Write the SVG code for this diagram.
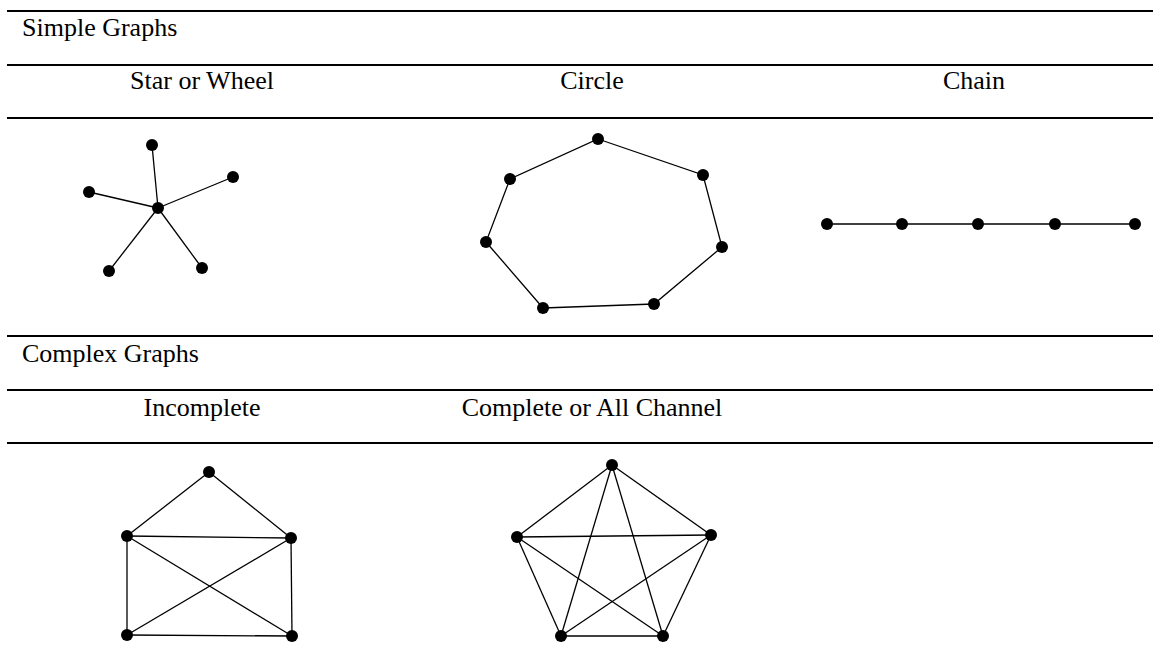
<svg xmlns="http://www.w3.org/2000/svg" width="1153" height="669" viewBox="0 0 1153 669">
<style>
.rule{stroke:#000;stroke-width:2}
.t{font-family:"Liberation Serif","Times New Roman",serif;font-size:26px;fill:#000}
.c{text-anchor:middle}
.e{stroke:#000;stroke-width:1.3;fill:none}
.n{fill:#000}
</style>
<rect width="1153" height="669" fill="#fff"/>
<g id="table">
<line class="rule" x1="7" y1="11" x2="1153" y2="11"/>
<line class="rule" x1="7" y1="65" x2="1153" y2="65"/>
<line class="rule" x1="7" y1="118" x2="1153" y2="118"/>
<line class="rule" x1="7" y1="336" x2="1153" y2="336"/>
<line class="rule" x1="7" y1="390" x2="1153" y2="390"/>
<line class="rule" x1="7" y1="443" x2="1153" y2="443"/>
<text class="t" x="22" y="36">Simple Graphs</text>
<text class="t c" x="202" y="89">Star or Wheel</text>
<text class="t c" x="592" y="89">Circle</text>
<text class="t c" x="974" y="89">Chain</text>
<text class="t" x="22" y="362">Complex Graphs</text>
<text class="t c" x="202" y="416">Incomplete</text>
<text class="t c" x="592" y="416">Complete or All Channel</text>
</g>
<g id="connectors">
<line class="e" x1="158" y1="208" x2="152" y2="145"/>
<line class="e" x1="158" y1="208" x2="233" y2="177"/>
<line class="e" x1="158" y1="208" x2="89" y2="192"/>
<line class="e" x1="158" y1="208" x2="109" y2="271"/>
<line class="e" x1="158" y1="208" x2="202" y2="268"/>
<polygon class="e" points="598,139 703,175 722,247 654,304 543,308 486,242 510,179"/>
<line class="e" x1="827" y1="224" x2="1135" y2="224"/>
<line class="e" x1="209" y1="472" x2="127" y2="536"/>
<line class="e" x1="209" y1="472" x2="291" y2="538"/>
<line class="e" x1="127" y1="536" x2="291" y2="538"/>
<line class="e" x1="127" y1="536" x2="127" y2="635"/>
<line class="e" x1="291" y1="538" x2="292" y2="636"/>
<line class="e" x1="127" y1="635" x2="292" y2="636"/>
<line class="e" x1="127" y1="536" x2="292" y2="636"/>
<line class="e" x1="291" y1="538" x2="127" y2="635"/>
<line class="e" x1="612" y1="465" x2="517" y2="537"/>
<line class="e" x1="612" y1="465" x2="711" y2="535"/>
<line class="e" x1="612" y1="465" x2="561" y2="636"/>
<line class="e" x1="612" y1="465" x2="663" y2="636"/>
<line class="e" x1="517" y1="537" x2="711" y2="535"/>
<line class="e" x1="517" y1="537" x2="561" y2="636"/>
<line class="e" x1="517" y1="537" x2="663" y2="636"/>
<line class="e" x1="711" y1="535" x2="561" y2="636"/>
<line class="e" x1="711" y1="535" x2="663" y2="636"/>
<line class="e" x1="561" y1="636" x2="663" y2="636"/>
</g>
<g id="star-nodes" class="n">
<circle cx="158" cy="208" r="6"/><circle cx="152" cy="145" r="6"/><circle cx="233" cy="177" r="6"/>
<circle cx="89" cy="192" r="6"/><circle cx="109" cy="271" r="6"/><circle cx="202" cy="268" r="6"/>
</g>
<g id="circle-nodes" class="n">
<circle cx="598" cy="139" r="6"/><circle cx="703" cy="175" r="6"/><circle cx="722" cy="247" r="6"/>
<circle cx="654" cy="304" r="6"/><circle cx="543" cy="308" r="6"/><circle cx="486" cy="242" r="6"/>
<circle cx="510" cy="179" r="6"/>
</g>
<g id="chain-nodes" class="n">
<circle cx="827" cy="224" r="6"/><circle cx="902" cy="224" r="6"/><circle cx="978" cy="224" r="6"/>
<circle cx="1055" cy="224" r="6"/><circle cx="1135" cy="224" r="6"/>
</g>
<g id="incomplete-nodes" class="n">
<circle cx="209" cy="472" r="6"/><circle cx="127" cy="536" r="6"/><circle cx="291" cy="538" r="6"/>
<circle cx="127" cy="635" r="6"/><circle cx="292" cy="636" r="6"/>
</g>
<g id="complete-nodes" class="n">
<circle cx="612" cy="465" r="6"/><circle cx="517" cy="537" r="6"/><circle cx="711" cy="535" r="6"/>
<circle cx="561" cy="636" r="6"/><circle cx="663" cy="636" r="6"/>
</g>
</svg>
